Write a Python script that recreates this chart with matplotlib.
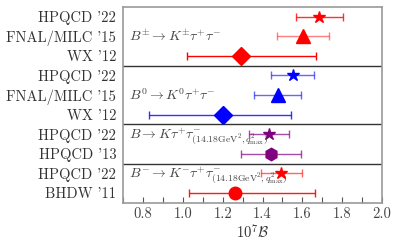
import numpy as np
import matplotlib
matplotlib.use("Agg")
from matplotlib import pyplot as plt

plt.rcParams["font.family"] = ["cmr10", "DejaVu Serif"]
plt.rcParams["mathtext.fontset"] = "cm"
plt.rcParams["axes.formatter.use_mathtext"] = True

# rows, top to bottom
row_labels = [
    "HPQCD '22", "FNAL/MILC '15", "WX '12",
    "HPQCD '22", "FNAL/MILC '15", "WX '12",
    "HPQCD '22", "HPQCD '13",
    "HPQCD '22", "BHDW '11",
]
values = [1.684, 1.605, 1.292, 1.555, 1.477, 1.202, 1.434, 1.443, 1.493, 1.262]
err_lo = [0.116, 0.130, 0.273, 0.110, 0.120, 0.371, 0.100, 0.153, 0.102, 0.232]
err_hi = [0.120, 0.131, 0.376, 0.106, 0.118, 0.343, 0.101, 0.149, 0.107, 0.402]
markers = ["*", "^", "D", "*", "^", "D", "*", "h", "*", "o"]
marker_sizes = [9, 10, 9, 9, 10, 9, 9, 9, 9, 9]
colors = ["red", "red", "red", "blue", "blue", "blue",
          "purple", "purple", "red", "red"]
bar_alpha = [0.8, 0.5, 1.0, 0.6, 0.6, 0.8, 0.7, 0.7, 0.6, 0.9]

group_edges = [2.5, 5.5, 7.5]
group_rows = [1, 4, 6, 8]
group_titles = [
    r"$B^{\pm}\to K^{\pm}\tau^{+}\tau^{-}$",
    r"$B^{0}\to K^{0}\tau^{+}\tau^{-}$",
    r"$B\to K\tau^{+}\tau^{-}_{(14.18\mathrm{GeV}^2,q^2_{\mathrm{max}})}$",
    r"$B^{-}\to K^{-}\tau^{+}\tau^{-}_{(14.18\mathrm{GeV}^2,q^2_{\mathrm{max}})}$",
]

fig = plt.figure(figsize=(3.99, 2.47), dpi=100)
ax = fig.add_axes([0.309, 0.179, 0.648, 0.793])

rows = np.arange(len(values))
for i in rows:
    ax.errorbar(values[i], i, xerr=[[err_lo[i]], [err_hi[i]]],
                fmt="none", ecolor=colors[i], elinewidth=1.0,
                capsize=3, capthick=1.0, alpha=bar_alpha[i], zorder=2)
    ax.plot(values[i], i, marker=markers[i], color=colors[i],
            markersize=marker_sizes[i], linestyle="none", zorder=3)

for y in group_edges:
    ax.axhline(y, color="#333333", linewidth=1.0)

for k, (r, t) in enumerate(zip(group_rows, group_titles)):
    if k < 2:
        ax.text(0.729, r, t, fontsize=10, color="#444444",
                va="center", ha="left")
    else:
        ax.text(0.729, r + 0.22, t, fontsize=10, color="#444444",
                va="baseline", ha="left")

ax.set_ylim(len(values) - 0.5, -0.5)
ax.set_yticks(rows)
ax.set_yticklabels(row_labels, fontsize=10.5, color="#333333")
ax.tick_params(axis="y", length=0, pad=5)

ax.set_xlim(0.7, 2.0)
ax.set_xticks(np.arange(0.8, 2.01, 0.2))
ax.set_xticks(np.arange(0.7, 2.01, 0.1), minor=True)
ax.set_xticklabels([f"{v:.1f}" for v in np.arange(0.8, 2.01, 0.2)],
                   fontsize=10.5, color="#444444")
ax.tick_params(axis="x", which="both", direction="in", length=4,
               color="#555555", width=0.8)
ax.set_xlabel(r"$10^7\mathcal{B}$", fontsize=10.5, labelpad=1, color="#333333")

for s in ax.spines.values():
    s.set_color("#999999")
    s.set_linewidth(1.2)

fig.savefig("out.png", dpi=100)
